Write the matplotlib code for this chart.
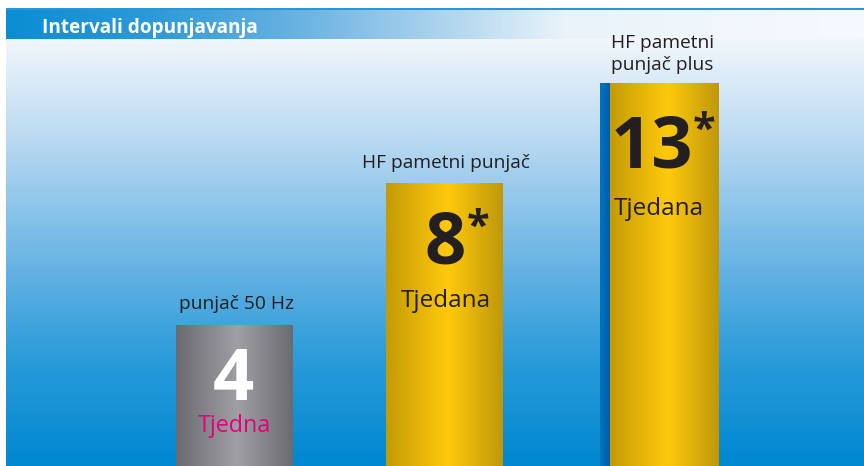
import numpy as np
import matplotlib.pyplot as plt
from matplotlib.colors import LinearSegmentedColormap
from matplotlib.patches import Rectangle

# ---- data ----
title = "Intervali dopunjavanja"
categories = ["punjač 50 Hz", "HF pametni punjač", "HF pametni\npunjač plus"]
intervals = [4, 8, 13]
units = ["Tjedna", "Tjedana", "Tjedana"]
marks = ["", "*", "*"]
bar_heights = [141, 283, 383]   # displayed bar heights (graphic is not to scale)

# ---- layout / style ----
W, H = 864, 466
FONT = ["Open Sans", "DejaVu Sans"]
bar_x = [234.5, 444.5, 659.5]
bar_w = [117, 117, 119]
bar_kind = ["gray", "gold", "gold_plus"]
num_color = ["white", "#231f20", "#231f20"]
unit_color = ["#e5007d", "#231f20", "#231f20"]

fig = plt.figure(figsize=(8.64, 4.66), dpi=100)
ax = fig.add_axes([0, 0, 1, 1])
ax.set_xlim(0, W)
ax.set_ylim(0, H)
ax.axis("off")

# background panel gradient
bg = LinearSegmentedColormap.from_list(
    "bg", [(0, "#f1f6fb"), (0.25, "#b5d7f0"), (0.5, "#70b7e5"),
           (0.75, "#2a9bd9"), (1, "#0088d1")])
g = np.linspace(0, 1, 256).reshape(-1, 1)
ax.imshow(g, cmap=bg, extent=[6, W, 0, H - 39], aspect="auto",
          origin="upper", zorder=0)

# title bar
tb = LinearSegmentedColormap.from_list(
    "tb", [(0, "#0a8dd4"), (150 / 858, "#2e9ad8"), (300 / 858, "#6db4e3"),
           (450 / 858, "#b4d7ef"), (560 / 858, "#eaf3fa"), (1, "#f6fafd")])
gx = np.linspace(0, 1, 512).reshape(1, -1)
ax.imshow(gx, cmap=tb, extent=[6, W, H - 39, H - 9], aspect="auto", zorder=1)
ax.add_patch(Rectangle((6, H - 9.5), W - 6, 1.8, color="#2c95d4", lw=0, zorder=2))
ax.text(42, H - 33, title, color="white", fontsize=13.7, fontweight="bold",
        family=FONT, va="baseline", ha="left", zorder=3)

cmaps = {
    "gray": LinearSegmentedColormap.from_list(
        "gr", [(0, "#6b6b70"), (0.53, "#a0a0a4"), (1, "#6a6a6f")]),
    "gold": LinearSegmentedColormap.from_list(
        "go", [(0, "#c39b06"), (0.53, "#ffc90c"), (1, "#bf980a")]),
}
blue_strip = LinearSegmentedColormap.from_list("bs", ["#0074be", "#005fab"])

bars = ax.bar(bar_x, bar_heights, width=bar_w, color="none", lw=0, zorder=3)
for i, b in enumerate(bars):
    x0, w, h = b.get_x(), b.get_width(), b.get_height()
    if bar_kind[i] == "gold_plus":
        s = 10
        strip = ax.imshow(gx, cmap=blue_strip, extent=[x0, x0 + s, 0, h],
                          aspect="auto", zorder=3)
        gold = ax.imshow(gx, cmap=cmaps["gold"], extent=[x0 + s, x0 + w, 0, h],
                         aspect="auto", zorder=3)
        for im in (strip, gold):
            im.set_clip_path(b)
    else:
        im = ax.imshow(gx, cmap=cmaps[bar_kind[i]], extent=[x0, x0 + w, 0, h],
                       aspect="auto", zorder=3)
        im.set_clip_path(b)

# category labels
CFS = 13.8
ax.text(bar_x[0] + 2, H - 309, categories[0], ha="center", va="baseline",
        fontsize=CFS, color="#231f20", family=FONT, zorder=5)
ax.text(bar_x[1] + 1, H - 168, categories[1], ha="center", va="baseline",
        fontsize=CFS, color="#231f20", family=FONT, zorder=5)
ax.text(bar_x[2] + 3, H - 70, categories[2], ha="center", va="baseline",
        fontsize=CFS, color="#231f20", family=FONT, zorder=5,
        linespacing=1.3)

# values inside bars
num_base = [400, 264, 167]
num_cx = [233.5, 445, 652]
unit_base = [432, 307, 215]
unit_cx = [234, 446, 659]
unit_fs = [16.8, 17.5, 17.5]
for i in range(3):
    ax.text(num_cx[i], H - num_base[i], str(intervals[i]), ha="center",
            va="baseline", fontsize=52, fontweight="bold", color=num_color[i],
            family=FONT, zorder=5)
    if marks[i]:
        half = 18 if intervals[i] < 10 else 37
        ax.text(num_cx[i] + half + 4, H - num_base[i] + 25, marks[i],
                ha="left", va="baseline", fontsize=30, fontweight="bold",
                color=num_color[i], family=FONT, zorder=5)
    ax.text(unit_cx[i], H - unit_base[i], units[i], ha="center",
            va="baseline", fontsize=unit_fs[i], color=unit_color[i],
            family=FONT, zorder=5)

fig.savefig("out.png", dpi=100)
